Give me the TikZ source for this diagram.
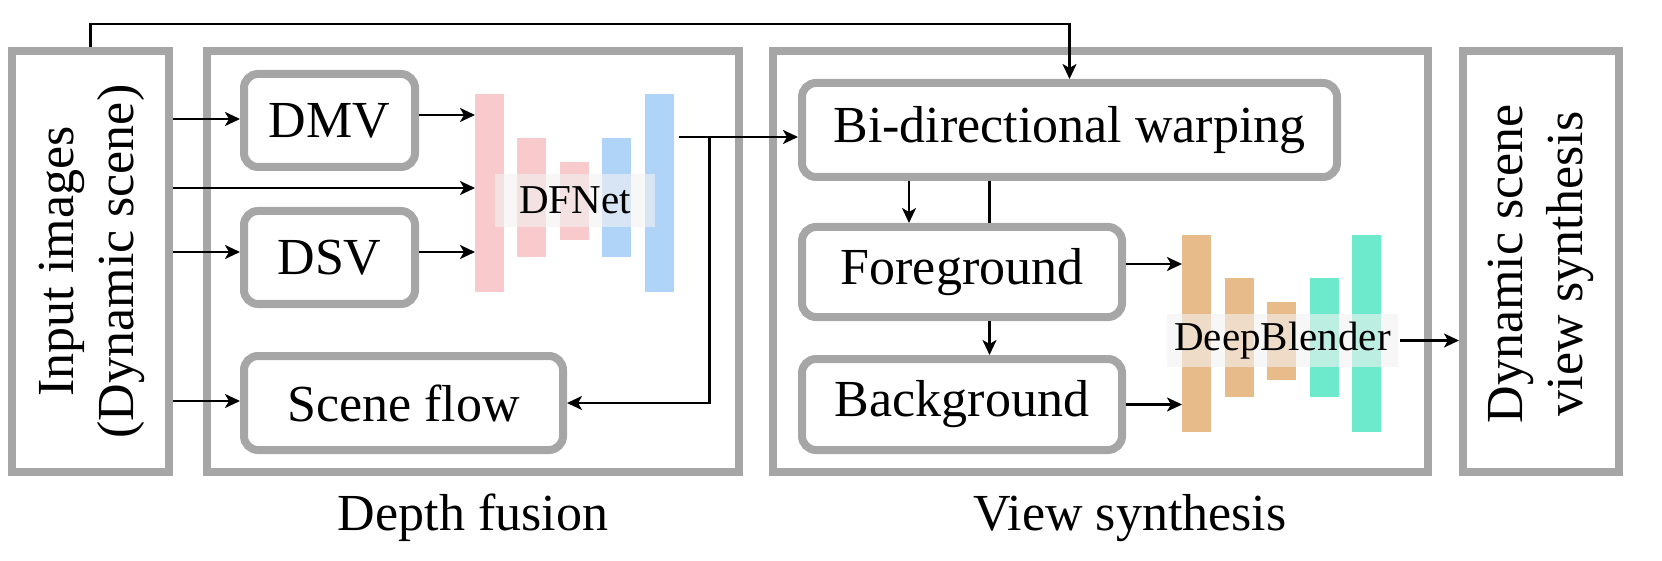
\documentclass[tikz,border=0pt]{standalone}
\usepackage{fontspec}
\setmainfont{Liberation Serif}
\usetikzlibrary{arrows.meta}
\definecolor{framegray}{HTML}{A6A6A6}
\definecolor{barpink}{HTML}{F8CACB}
\definecolor{barblue}{HTML}{B0D3F8}
\definecolor{barorange}{HTML}{E8BC8A}
\definecolor{barteal}{HTML}{6DEACB}
\begin{document}
\begin{tikzpicture}[x=1pt,y=-1pt,
  frame/.style={draw=framegray, line width=8pt, rectangle, inner sep=0pt},
  rbox/.style={draw=framegray, line width=8pt, rounded corners=14pt, rectangle, inner sep=0pt, font=\fontsize{52}{60}\selectfont},
  bar/.style={rectangle, inner sep=0pt, outer sep=0pt, minimum width=29pt},
  lab/.style={rectangle, inner sep=0pt, outer sep=0pt, fill=black!5, fill opacity=0.6, text opacity=1, font=\fontsize{41}{48}\selectfont, minimum height=53pt},
  arr/.style={line width=2.5pt, -{Stealth[length=15pt,width=14pt,inset=4pt]}},
  ln/.style={line width=2.5pt},
  big/.style={font=\fontsize{52}{60}\selectfont}
]
\useasboundingbox (0,0) rectangle (1662,561);

% frames
\node[frame, minimum width=157pt, minimum height=421pt] (in) at (90.5,261.5) {};
\node[frame, minimum width=532pt, minimum height=421pt] (df) at (473,261.5) {};
\node[frame, minimum width=655pt, minimum height=421pt] (vs) at (1100.5,261.5) {};
\node[frame, minimum width=156pt, minimum height=421pt] (out) at (1541,261.5) {};

\node[big, rotate=90, align=center] (intext) at (92,261.5) {Input images\\(Dynamic scene)};
\node[big, rotate=90, align=center] (outtext) at (1541,264) {Dynamic scene\\view synthesis};

\node[big, anchor=base] (dflab) at (473,530) {Depth fusion};
\node[big, anchor=base] (vslab) at (1130,530) {View synthesis};

% rounded boxes
\node[rbox, minimum width=171pt, minimum height=93pt] (dmv) at (329.5,120.5) {DMV};
\node[rbox, minimum width=171pt, minimum height=93pt] (dsv) at (329.5,257.5) {DSV};
\node[rbox, minimum width=319pt, minimum height=94pt] (sf) at (403.5,403) {Scene flow};
\node[rbox, minimum width=535pt, minimum height=94pt] (bi) at (1069.5,130) {Bi-directional warping};
\node[rbox, minimum width=320pt, minimum height=90pt] (fg) at (962,272) {Foreground};
\node[rbox, minimum width=320pt, minimum height=91pt] (bg) at (962,404.5) {Background};

% DFNet bars
\node[bar, fill=barpink, minimum height=198pt] (p1) at (489.5,193) {};
\node[bar, fill=barpink, minimum height=119pt] (p2) at (531.5,197.5) {};
\node[bar, fill=barpink, minimum height=78pt] (p3) at (574.5,201) {};
\node[bar, fill=barblue, minimum height=119pt] (b1) at (616.5,197.5) {};
\node[bar, fill=barblue, minimum height=198pt] (b2) at (659.5,193) {};
\node[lab, minimum width=160pt] (dfn) at (575,200.5) {DFNet};

% DeepBlender bars
\node[bar, fill=barorange, minimum height=197pt] (o1) at (1196.5,333.5) {};
\node[bar, fill=barorange, minimum height=119pt] (o2) at (1239.5,337.5) {};
\node[bar, fill=barorange, minimum height=78pt] (o3) at (1281.5,341) {};
\node[bar, fill=barteal, minimum height=119pt] (t1) at (1324.5,337.5) {};
\node[bar, fill=barteal, minimum height=197pt] (t2) at (1366.5,333.5) {};
\node[lab, minimum width=231pt] (dbl) at (1282.5,340.5) {DeepBlender};

% helper coordinates
\coordinate (top) at (500,24);
\coordinate (rA) at (0,119);
\coordinate (rB) at (0,115);
\coordinate (rC) at (0,188);
\coordinate (rD) at (0,252);
\coordinate (rE) at (0,401);
\coordinate (j) at (709.5,137);
\coordinate (k1) at (909,0);
\coordinate (k2) at (989.5,0);
\coordinate (rF) at (0,264);

% connectors
\draw[arr] (in.north) |- (top) -| (bi.north);
\draw[arr] (in.east |- rA) -- (dmv.west |- rA);
\draw[arr] (dmv.east |- rB) -- (p1.west |- rB);
\draw[arr] (in.east |- rC) -- (p1.west |- rC);
\draw[arr] (in.east |- rD) -- (dsv.west |- rD);
\draw[arr] (dsv.east |- rD) -- (p1.west |- rD);
\draw[arr] (in.east |- rE) -- (sf.west |- rE);
\draw[arr, shorten <=5pt] (b2.east |- j) -- (bi.west |- j);
\draw[arr] (j) |- (sf.east);
\draw[arr] (bi.south -| k1) -- (fg.north -| k1);
\draw[ln] (bi.south -| k2) -- (fg.north -| k2);
\draw[arr] (fg.south -| k2) -- (bg.north -| k2);
\draw[arr] (fg.east |- rF) -- (o1.west |- rF);
\draw[arr] (bg.east) -- (o1.west |- bg.east);
\draw[arr, shorten <=2pt] (dbl.east) -- (out.west |- dbl.east);
\end{tikzpicture}
\end{document}
